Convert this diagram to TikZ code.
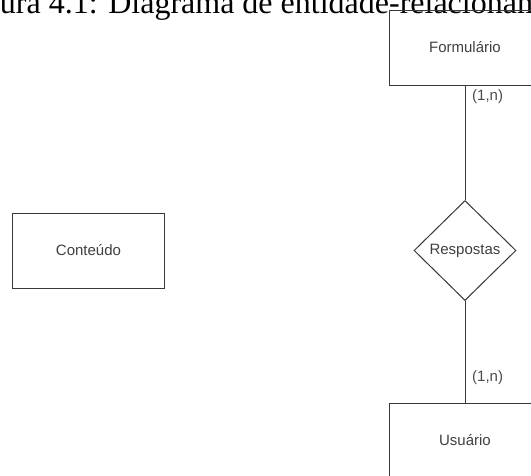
\documentclass[tikz,border=0pt]{standalone}
\usepackage{fontspec}
\setmainfont{Liberation Sans}
\newfontfamily\capfont{Liberation Serif}
\usetikzlibrary{shapes.geometric}
\tikzset{
  ink/.style={draw=black!78, line width=1pt},
  entity/.style={ink, rectangle, minimum width=152pt, minimum height=75pt, inner sep=0pt,
                 text=black!75, font=\fontsize{15}{18}\selectfont},
  relation/.style={ink, diamond, minimum width=102pt, minimum height=100pt, inner sep=0pt,
                   text=black!75, font=\fontsize{15}{18}\selectfont},
  card/.style={anchor=west, inner sep=0pt, text=black!70, font=\fontsize{15}{18}\selectfont},
}
\begin{document}
\begin{tikzpicture}[x=1pt, y=-1pt]
  \useasboundingbox (0,0) rectangle (531,475);
  \fill[white] (0,0) rectangle (531,475);
  \clip (0,0) rectangle (531,475);

  % caption line of the page, partly outside the frame
  \node[anchor=base west, inner sep=0pt, font=\capfont\fontsize{32}{38}\selectfont]
    (caption) at (-43,13) {Figura 4.1: Diagrama de entidade-relacionamento};

  % entities and the relationship
  \node[entity] (form) at (465,47.5) {Formulário};
  \node[entity] (cont) at (88.5,250.5) {Conteúdo};
  \node[relation] (resp) at (465,250.5) {Respostas};
  \node[entity] (usu) at (465,440.5) {Usuário};

  % connectors
  \draw[ink] (form.south) -- (resp.north);
  \draw[ink] (resp.south) -- (usu.north);

  % cardinalities
  \node[card] (c1) at (472,97) {(1,n)};
  \node[card] (c2) at (472,378) {(1,n)};
\end{tikzpicture}
\end{document}
